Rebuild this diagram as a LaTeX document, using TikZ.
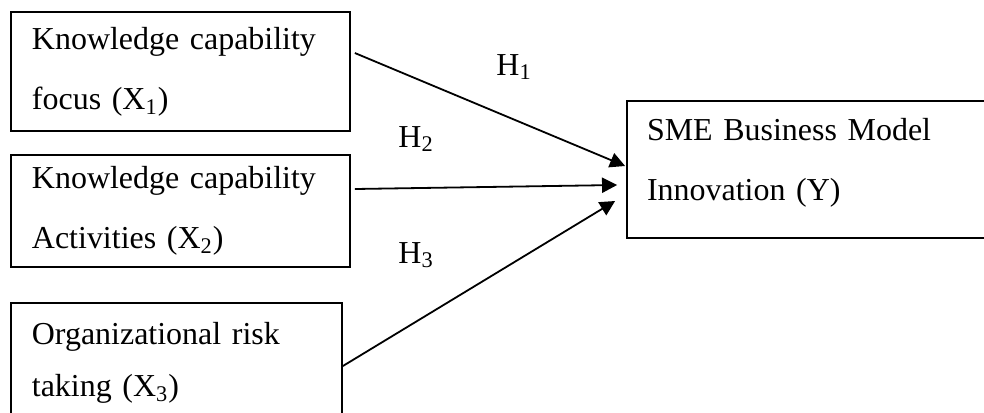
\documentclass[tikz,border=0pt]{standalone}
\usepackage{fontspec}
\setmainfont{Liberation Serif}
\usetikzlibrary{arrows.meta}

\begin{document}
\begin{tikzpicture}[x=0.4444pt, y=-0.4444pt,
    varbox/.style={draw, line width=0.8pt, rectangle, align=left,
        inner xsep=9.3pt, inner ysep=0pt,
        font=\fontsize{14.2}{26.7}\selectfont},
    hyplabel/.style={inner sep=0pt, anchor=base west, font=\fontsize{14.2}{16}\selectfont},
    hyparrow/.style={line width=0.8pt, -{Triangle[length=6.7pt, width=6.7pt]}}]

    % Fix the frame of the picture (boxes run past its edges)
    \path[use as bounding box, clip] (0,0) rectangle (984,412);

    % Draw the independent variables
    \node[varbox, text width=132pt, minimum height=52.9pt] (xone) at (180.5,71.5)
        {Knowledge capability\\focus (X\textsubscript{1})};
    \node[varbox, text width=132pt, minimum height=49.8pt] (xtwo) at (180.5,211)
        {Knowledge capability\\Activities (X\textsubscript{2})};
    \node[varbox, text width=128.5pt, minimum height=53.3pt,
        font=\fontsize{14.2}{23.1}\selectfont] (xthree) at (176.5,363)
        {Organizational risk\\taking (X\textsubscript{3})};

    % Draw the dependent variable (text sits a little above the middle)
    \node[varbox, text width=144.4pt, inner xsep=8.9pt, minimum height=60.9pt] (y) at (809.5,169.5)
        {SME Business Model\\Innovation (Y)\vspace{6.2pt}};

    % Draw the hypothesis arrows
    \draw[hyparrow] ([shift={(4,-18.5)}]xone.east) -- ([shift={(-1,-3.5)}]y.west);
    \draw[hyparrow] ([shift={(4,-22)}]xtwo.east) -- ([shift={(-9,15.5)}]y.west);
    \draw[hyparrow] ([shift={(0,3)}]xthree.east) -- ([shift={(-11,31.5)}]y.west);

    % Add the hypothesis labels
    \node[hyplabel] (hone) at (496,75) {H\textsubscript{1}};
    \node[hyplabel] (htwo) at (398,147) {H\textsubscript{2}};
    \node[hyplabel] (hthree) at (398,263) {H\textsubscript{3}};

\end{tikzpicture}
\end{document}
